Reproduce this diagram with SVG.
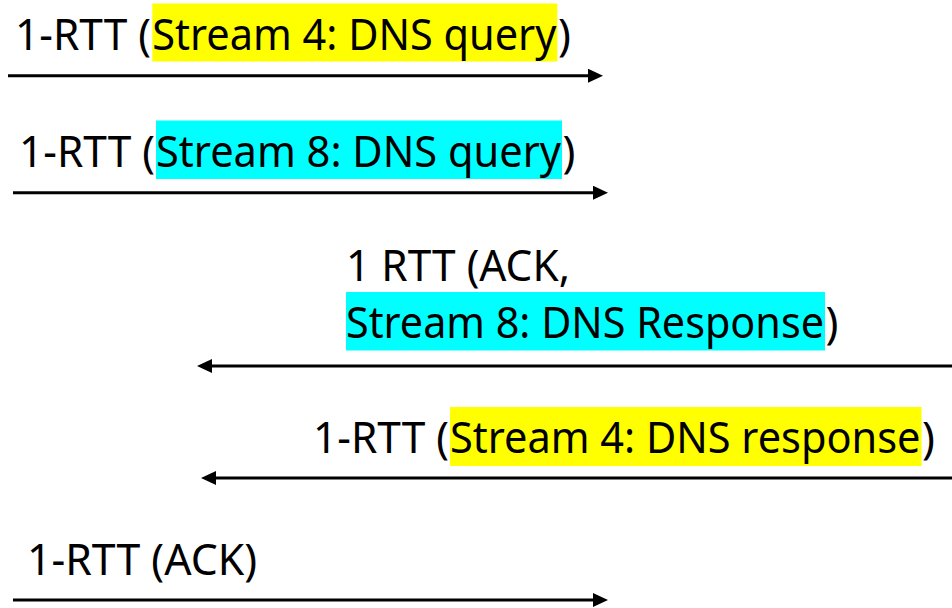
<svg xmlns="http://www.w3.org/2000/svg" width="952" height="608" viewBox="0 0 952 608">
  <style>
    text { font-family: "Noto Sans", "Open Sans", "DejaVu Sans", sans-serif; font-size: 43px; fill: #000; }
    .hl-y { fill: #FFFF00; }
    .hl-c { fill: #00FFFF; }
    .msg { stroke: #000; stroke-width: 3; fill: none; marker-end: url(#head); }
  </style>
  <defs>
    <marker id="head" markerUnits="userSpaceOnUse" markerWidth="16" markerHeight="16" refX="3" refY="7" orient="auto">
      <path d="M0,0 L15,7 L0,14 z" fill="#000"/>
    </marker>
  </defs>

  <rect width="952" height="608" fill="#fff"/>

  <!-- client -> server: stream 4 query -->
  <g id="msg-stream4-query">
    <rect class="hl-y" x="152.3" y="3.5" width="405" height="58"/>
    <text y="49.5"><tspan x="15" textLength="136" lengthAdjust="spacingAndGlyphs">1-RTT (</tspan><tspan x="152.3" textLength="404" lengthAdjust="spacingAndGlyphs">Stream 4: DNS query</tspan><tspan x="558">)</tspan></text>
  </g>

  <!-- client -> server: stream 8 query -->
  <g id="msg-stream8-query">
    <rect class="hl-c" x="156" y="120.5" width="406" height="58.5"/>
    <text y="166.5"><tspan x="19" textLength="136" lengthAdjust="spacingAndGlyphs">1-RTT (</tspan><tspan x="156" textLength="405" lengthAdjust="spacingAndGlyphs">Stream 8: DNS query</tspan><tspan x="562.5">)</tspan></text>
  </g>

  <!-- server -> client: ACK + stream 8 response -->
  <g id="msg-stream8-response">
    <rect class="hl-c" x="346" y="292" width="479" height="58.5"/>
    <text x="346" y="281" textLength="224" lengthAdjust="spacingAndGlyphs">1 RTT (ACK,</text>
    <text y="338"><tspan x="346" textLength="478" lengthAdjust="spacingAndGlyphs">Stream 8: DNS Response</tspan><tspan x="825.5">)</tspan></text>
  </g>

  <!-- server -> client: stream 4 response -->
  <g id="msg-stream4-response">
    <rect class="hl-y" x="450" y="407" width="471.5" height="59"/>
    <text y="453"><tspan x="313" textLength="136" lengthAdjust="spacingAndGlyphs">1-RTT (</tspan><tspan x="450" textLength="470.5" lengthAdjust="spacingAndGlyphs">Stream 4: DNS response</tspan><tspan x="922">)</tspan></text>
  </g>

  <!-- client -> server: final ACK -->
  <g id="msg-ack">
    <text x="27" y="575" textLength="230" lengthAdjust="spacingAndGlyphs">1-RTT (ACK)</text>
  </g>

  <g id="connectors">
    <line class="msg" x1="8" y1="75.7" x2="591" y2="75.7"/>
    <line class="msg" x1="13" y1="192.7" x2="596" y2="192.7"/>
    <line class="msg" x1="952" y1="366" x2="209" y2="366"/>
    <line class="msg" x1="952" y1="478" x2="213" y2="478"/>
    <line class="msg" x1="13" y1="600" x2="596" y2="600"/>
  </g>
</svg>
